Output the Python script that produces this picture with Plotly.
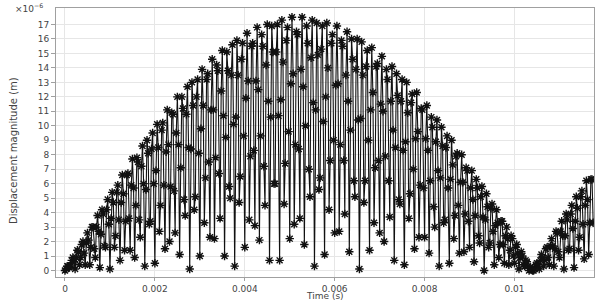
import plotly.graph_objects as go

# Displacement magnitude samples (units of 1e-6 m), sampled every 25 microseconds
time_step = 2.5e-5

disp_rise = [
    0.0, 0.1, 0.3, 0.3, 0.2, 0.3, 0.7, 0.9, 0.6, 0.1, 0.9, 1.4, 1.3, 0.4, 0.9, 1.8, 2.0, 1.2, 0.4, 1.9,
    2.6, 2.1, 0.4, 1.6, 3.0, 3.0, 1.5, 0.9, 3.0, 3.8, 2.7, 0.2, 2.5, 4.2, 3.9, 1.7, 1.6, 4.2, 4.9, 3.2,
    0.1, 3.6, 5.4, 4.7, 1.6, 2.4, 5.4, 5.9, 3.5, 0.7, 4.7, 6.6, 5.3, 1.4, 3.4, 6.6, 6.7, 3.6, 1.4, 5.9,
    7.7, 5.7, 0.9, 4.5, 7.8, 7.5, 3.5, 2.3, 7.2, 8.6, 6.0, 0.3, 5.6, 9.0, 8.1,
    3.2, 3.4, 8.4, 9.5, 6.0, 0.5, 6.9, 10.1, 8.5, 2.7, 4.5, 9.7, 10.2, 5.9, 1.5, 8.2, 11.1, 8.7, 2.0, 5.8,
    10.9, 10.8, 5.5, 2.6, 9.5, 12.0, 8.7, 1.1, 7.1, 12.0, 11.2, 4.9, 3.8, 10.8, 12.7, 8.5, 0.1, 8.4, 13.0, 11.4,
    4.2, 5.1, 12.0, 13.2, 8.1,
]

disp_peak = [
    1.0, 9.8, 13.9, 11.4, 3.3, 6.4, 13.2, 13.6, 7.5, 2.3, 11.1, 14.6, 11.1, 2.2, 7.8, 14.2, 13.8, 6.7, 3.6, 12.4,
    15.2, 10.7, 1.0, 9.2, 15.1, 13.8, 5.8, 5.0, 13.5, 15.6, 10.1, 0.3, 10.6, 15.9, 13.5, 4.7, 6.5, 14.6, 15.7, 9.3,
    1.6, 11.9, 16.4, 13.1, 3.5,
    7.9, 15.5, 15.7, 8.3, 3.1, 13.1, 16.8, 12.5, 2.1, 9.3, 16.3, 15.5, 7.2, 4.5, 14.2, 17.0, 11.7, 0.7, 10.6, 16.9,
    15.1, 6.0, 6.0, 15.1, 17.0, 10.7, 0.7, 11.8, 17.3, 14.4, 4.6, 7.4, 15.9, 16.8, 9.6, 2.2, 12.9, 17.5, 13.6, 3.2,
    8.7, 16.5, 16.3, 8.4, 3.6,
    13.9, 17.5, 12.7, 1.8, 10.0, 16.9, 15.7, 7.0, 5.1, 14.7, 17.3, 11.6, 0.3, 11.1, 17.1, 14.9, 5.6, 6.4, 15.3, 16.9,
    10.3, 1.1, 12.0, 17.1, 14.0, 4.2, 7.6, 15.7, 16.3, 9.0, 2.6, 12.8, 16.9, 12.9, 2.7, 8.7, 15.9, 15.5, 7.6, 3.9,
    13.5, 16.5, 11.7, 1.3, 9.7,
    16.0, 14.6, 6.2, 5.1, 13.9, 16.0, 10.4, 0.1, 10.5, 15.8, 13.5, 4.7, 6.2, 14.1, 15.2, 9.0, 1.4, 11.1, 15.4, 12.3,
    3.3, 7.1, 14.1, 14.3, 7.6, 2.6, 11.5, 14.8, 11.0, 2.0, 7.9, 13.9, 13.2, 6.2, 3.7, 11.7, 14.1, 9.7, 0.7, 8.5,
    13.6, 12.1, 4.9, 4.6, 11.7,
]

disp_fall = [
    13.2, 8.3, 0.4, 8.9, 13.0, 10.9, 3.6, 5.3, 11.6, 12.2, 7.0, 1.5, 9.1, 12.3, 9.6, 2.3, 5.9, 11.2, 11.1, 5.7,
    2.3, 9.1, 11.4, 8.3, 1.2, 6.2, 10.6, 9.9, 4.4, 3.0, 8.9, 10.4, 6.9, 0.3, 6.4, 9.9, 8.6, 3.3, 3.5, 8.5,
    9.3, 5.7, 0.5, 6.3, 9.0, 7.3, 2.2, 3.8, 7.9, 8.1, 4.5, 1.2, 6.1, 8.0, 6.1, 1.3, 3.9, 7.1, 6.9, 3.4,
    1.6, 5.7, 6.9, 4.9, 0.6, 3.8, 6.3, 5.7, 2.4, 1.9, 5.1, 5.8, 3.7, 0.0, 3.5, 5.3, 4.4, 1.6, 1.9, 4.3,
    4.6, 2.7, 0.4, 3.1, 4.2, 3.3, 0.9, 1.8, 3.4, 3.4, 1.8, 0.5, 2.4, 3.0, 2.2, 0.4, 1.4, 2.4, 2.2, 1.0,
    0.5, 1.6, 1.8, 1.2, 0.1, 0.9, 1.3, 1.0, 0.4, 0.3, 0.7, 0.6, 0.3, 0.0, 0.2, 0.1, 0.0, 0.0, 0.1, 0.4,
    0.5, 0.4, 0.1, 0.7, 1.1, 0.9, 0.3, 0.7, 1.5, 1.6, 0.9, 0.4, 1.7, 2.2, 1.7, 0.3, 1.5, 2.7, 2.6, 1.3,
    0.9, 2.7, 3.4, 2.4, 0.1, 2.4, 3.9, 3.5, 1.4, 1.5, 3.9, 4.5, 2.9, 0.2, 3.4, 5.1, 4.3, 1.4, 2.3, 5.1,
    5.5, 3.2, 0.8, 4.5, 6.2, 4.9, 1.1, 3.3, 6.3, 6.3, 3.3,
]

x_tick_vals = [0, 0.002, 0.004, 0.006, 0.008, 0.01]
x_tick_text = ["0", "0.002", "0.004", "0.006", "0.008", "0.01"]
y_tick_vals = list(range(0, 18))

disp = disp_rise + disp_peak + disp_fall
time = [i * time_step for i in range(len(disp))]

fig = go.Figure()
fig.add_trace(go.Scatter(
    x=time, y=disp, mode="lines+markers",
    line=dict(color="#111", width=1.1),
    marker=dict(symbol="asterisk-open", size=7, color="#111",
                line=dict(color="#111", width=1.4)),
    hoverinfo="skip",
))

grid = "#e6e6e6"
axcol = "#a0a0a0"
fig.update_layout(
    width=595, height=304,
    margin=dict(l=56, r=1, t=8, b=27),
    paper_bgcolor="white", plot_bgcolor="white", showlegend=False,
    font=dict(family="DejaVu Sans", size=9, color="#444"),
)
fig.update_xaxes(range=[-0.0002, 0.011769], tickvals=x_tick_vals, ticktext=x_tick_text,
                 showgrid=True, gridcolor=grid, gridwidth=1, showline=True, linecolor=axcol,
                 mirror=True, ticks="outside", ticklen=3, tickcolor=axcol,
                 zeroline=False, automargin=False, tickfont=dict(size=9, color="#444"))
fig.update_yaxes(range=[-0.45, 18.14], tickvals=y_tick_vals,
                 showgrid=True, gridcolor=grid, gridwidth=1, showline=True, linecolor=axcol,
                 mirror=True, ticks="outside", ticklen=4, tickcolor=axcol,
                 zeroline=False, automargin=False, tickfont=dict(size=9, color="#444"))

fig.add_annotation(text="Time (s)", xref="paper", yref="paper", x=0.5, y=-0.072,
                   showarrow=False, xanchor="center", yanchor="middle",
                   font=dict(size=9, color="#444"))
fig.add_annotation(text="Displacement magnitude (m)", xref="paper", yref="paper", x=-0.079, y=0.47,
                   textangle=-90, showarrow=False, xanchor="center", yanchor="middle",
                   font=dict(size=10, color="#444"))
fig.add_annotation(text="×10<sup>−6</sup>", xref="paper", yref="paper", x=-0.05, y=1.0,
                   showarrow=False, xanchor="center", yanchor="middle",
                   font=dict(size=9, color="#444"))

fig.write_html("out.html", config={"displayModeBar": False},
               post_script="document.body.style.margin='0px';")
